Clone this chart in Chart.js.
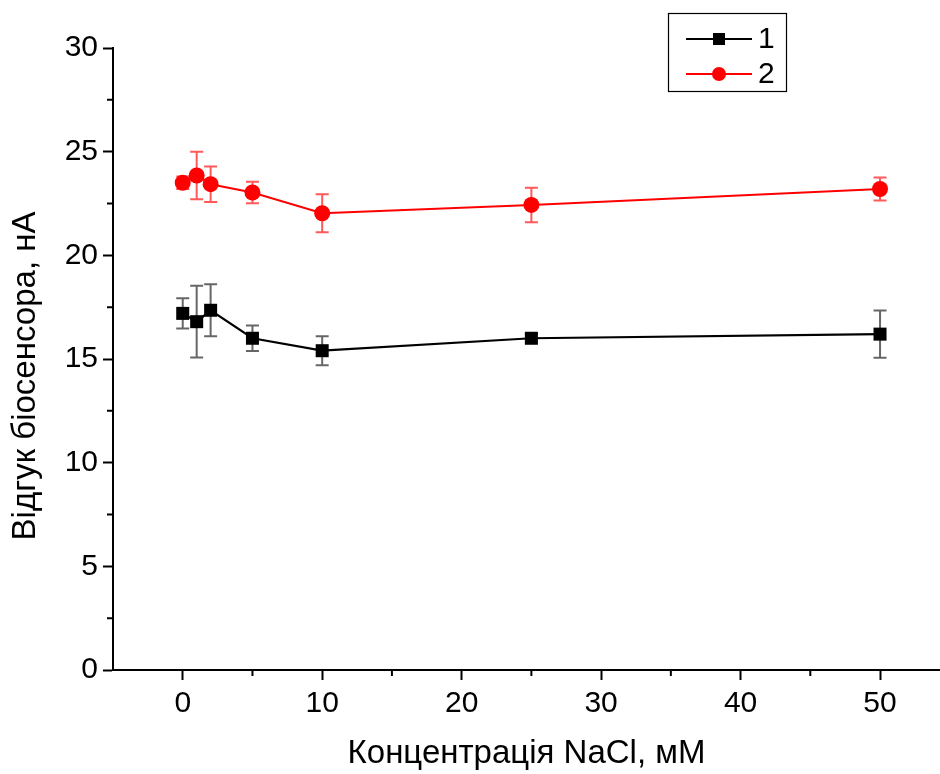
<!DOCTYPE html>
<html>
<head>
<meta charset="utf-8">
<script src="https://cdn.jsdelivr.net/npm/chart.js@4.4.0/dist/chart.umd.min.js"></script>
<style>
  html, body { margin: 0; padding: 0; background: #fff; }
  #wrap { width: 940px; height: 774px; }
</style>
</head>
<body>
<div id="wrap"><canvas id="chart"></canvas></div>
<script>
// NaCl concentration, mM
const concentrations = [0, 1, 2, 5, 10, 25, 50];

// series 1 (black squares)
const response1 = [17.2, 16.8, 17.35, 16.0, 15.4, 16.0, 16.2];
const error1 = [0.73, 1.73, 1.25, 0.62, 0.7, 0.2, 1.14];

// series 2 (red circles)
const response2 = [23.5, 23.85, 23.43, 23.03, 22.03, 22.43, 23.2];
const error2 = [0.3, 1.14, 0.86, 0.52, 0.92, 0.83, 0.55];

const seriesLabels = ["1", "2"];
const xMinorTicks = [5, 15, 25, 35, 45];
const yMinorTicks = [2.5, 7.5, 12.5, 17.5, 22.5, 27.5];
const yTitle = "Відгук біосенсора, нА";

const toPoints = (ys) => concentrations.map((x, i) => ({ x, y: ys[i] }));

const errorBars = {
  id: "errorBars",
  beforeDatasetsDraw(chart) {
    const { ctx, scales } = chart;
    const sets = [
      { vals: response1, errs: error1, color: "rgba(0,0,0,0.6)" },
      { vals: response2, errs: error2, color: "rgba(255,0,0,0.65)" },
    ];
    ctx.save();
    ctx.lineWidth = 2;
    sets.forEach((s) => {
      ctx.strokeStyle = s.color;
      concentrations.forEach((c, i) => {
        const x = scales.x.getPixelForValue(c);
        const yTop = scales.y.getPixelForValue(s.vals[i] + s.errs[i]);
        const yBot = scales.y.getPixelForValue(s.vals[i] - s.errs[i]);
        ctx.beginPath();
        ctx.moveTo(x, yTop);
        ctx.lineTo(x, yBot);
        ctx.moveTo(x - 6.5, yTop);
        ctx.lineTo(x + 6.5, yTop);
        ctx.moveTo(x - 6.5, yBot);
        ctx.lineTo(x + 6.5, yBot);
        ctx.stroke();
      });
    });
    ctx.restore();
  },
};

const minorTicks = {
  id: "minorTicks",
  afterDraw(chart) {
    const { ctx, scales, chartArea } = chart;
    ctx.save();
    ctx.strokeStyle = "#000";
    ctx.lineWidth = 2;
    ctx.beginPath();
    xMinorTicks.forEach((v) => {
      const x = scales.x.getPixelForValue(v);
      ctx.moveTo(x, chartArea.bottom);
      ctx.lineTo(x, chartArea.bottom + 6);
    });
    yMinorTicks.forEach((v) => {
      const y = scales.y.getPixelForValue(v);
      ctx.moveTo(chartArea.left, y);
      ctx.lineTo(chartArea.left - 6, y);
    });
    ctx.stroke();

    // y axis title, centred a little below the plot middle as in the original
    ctx.fillStyle = "#000";
    ctx.font = "33px 'Liberation Sans', Arial, sans-serif";
    ctx.textAlign = "center";
    ctx.textBaseline = "middle";
    ctx.translate(26, 376);
    ctx.rotate(-Math.PI / 2);
    ctx.fillText(yTitle, 0, 0);
    ctx.restore();
  },
};

const boxLegend = {
  id: "boxLegend",
  afterDraw(chart) {
    const { ctx } = chart;
    const left = 668, top = 13, w = 118, h = 78;
    ctx.save();
    ctx.strokeStyle = "#000";
    ctx.lineWidth = 1.2;
    ctx.strokeRect(left + 0.5, top + 0.5, w, h);
    chart.data.datasets.forEach((ds, i) => {
      const y = top + 26 + i * 35;
      ctx.strokeStyle = ds.borderColor;
      ctx.lineWidth = 2;
      ctx.beginPath();
      ctx.moveTo(686, y);
      ctx.lineTo(752, y);
      ctx.stroke();
      ctx.fillStyle = ds.backgroundColor;
      ctx.beginPath();
      if (ds.pointStyle === "rect") {
        ctx.rect(719 - 6, y - 6, 12, 12);
      } else {
        ctx.arc(719, y, 7, 0, Math.PI * 2);
      }
      ctx.fill();
      ctx.fillStyle = "#000";
      ctx.font = "30px 'Liberation Sans', Arial, sans-serif";
      ctx.textBaseline = "middle";
      ctx.fillText(ds.label, 758, y + 1);
    });
    ctx.restore();
  },
};

const tickFont = { family: "'Liberation Sans', Arial, sans-serif", size: 30 };
const titleFont = { family: "'Liberation Sans', Arial, sans-serif", size: 33 };

new Chart(document.getElementById("chart"), {
  type: "line",
  data: {
    datasets: [
      {
        label: seriesLabels[0],
        data: toPoints(response1),
        borderColor: "#000",
        backgroundColor: "#000",
        borderWidth: 2.2,
        pointStyle: "rect",
        pointRadius: 9.2,
        pointBorderWidth: 0,
        tension: 0,
      },
      {
        label: seriesLabels[1],
        data: toPoints(response2),
        borderColor: "#ff0000",
        backgroundColor: "#ff0000",
        borderWidth: 2,
        pointStyle: "circle",
        pointRadius: 8,
        pointBorderWidth: 0,
        tension: 0,
      },
    ],
  },
  options: {
    responsive: true,
    maintainAspectRatio: false,
    animation: false,
    layout: {
      autoPadding: false,
      padding: { top: 48, right: 0, left: 0, bottom: 0 },
    },
    plugins: {
      legend: { display: false },
      tooltip: { enabled: false },
    },
    scales: {
      x: {
        type: "linear",
        min: -5,
        max: 54.3,
        border: { color: "#000", width: 2 },
        grid: {
          drawOnChartArea: false,
          tickLength: 10,
          tickColor: "#000",
          tickWidth: 2,
        },
        ticks: {
          stepSize: 10,
          includeBounds: false,
          color: "#000",
          font: tickFont,
          padding: 6,
          maxRotation: 0,
        },
        title: {
          display: true,
          text: "Концентрація NaCl, мМ",
          color: "#000",
          font: titleFont,
          padding: { top: 13, bottom: 0 },
        },
        afterFit: (scale) => {
          scale.height = 104;
          scale.paddingLeft = 0;
          scale.paddingRight = 0;
        },
      },
      y: {
        min: 0,
        max: 30,
        border: { color: "#000", width: 2 },
        grid: {
          drawOnChartArea: false,
          tickLength: 10,
          tickColor: "#000",
          tickWidth: 2,
        },
        ticks: {
          stepSize: 5,
          color: "#000",
          font: tickFont,
          padding: 5,
        },
        afterFit: (scale) => {
          scale.width = 113;
        },
      },
    },
  },
  plugins: [errorBars, minorTicks, boxLegend],
});
</script>
</body>
</html>
